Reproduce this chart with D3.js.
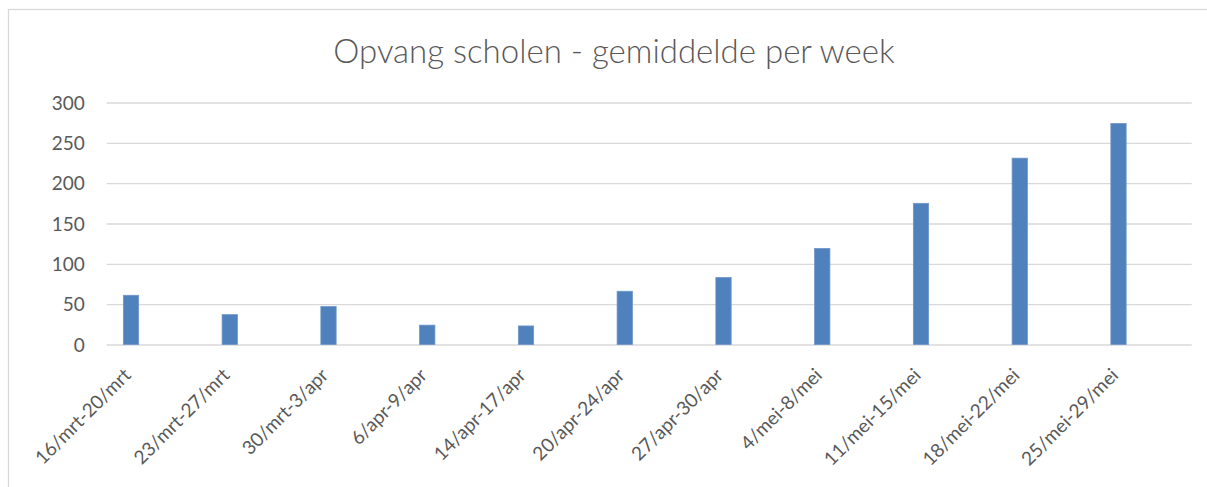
<!DOCTYPE html>
<html>
<head>
<meta charset="utf-8">
<script src="https://cdn.jsdelivr.net/npm/d3@7"></script>
<style>
  body { margin: 0; background: #fff; }
  text { font-family: Lato, "Open Sans", sans-serif; fill: #595959; }
</style>
</head>
<body>
<svg id="chart" width="1207" height="487"></svg>
<script>
// weeks and average number of children in school care
var weeks = ["16/mrt-20/mrt", "23/mrt-27/mrt", "30/mrt-3/apr", "6/apr-9/apr", "14/apr-17/apr",
             "20/apr-24/apr", "27/apr-30/apr", "4/mei-8/mei", "11/mei-15/mei", "18/mei-22/mei", "25/mei-29/mei"];
var gemiddelde = [61, 37, 47, 24, 23, 66, 83, 119, 175, 231, 274];
var yTicks = [0, 50, 100, 150, 200, 250, 300];
var title = "Opvang scholen - gemiddelde per week";

function drawChart() {
    var width = 1207, height = 487;
    var plot = {left: 106.7, right: 1191.7, top: 102.5, bottom: 344.5};

    var svg = d3.select("#chart");

    // chart frame, partly cut off on the right and bottom
    svg.append("rect")
        .attr("x", 8.5)
        .attr("y", 9.5)
        .attr("width", width)
        .attr("height", height)
        .attr("fill", "none")
        .attr("stroke", "#d9d9d9")
        .attr("stroke-width", 1.3);

    svg.append("text")
        .attr("x", 614)
        .attr("y", 63)
        .attr("text-anchor", "middle")
        .style("font-size", "33px")
        .style("font-weight", "300")
        .text(title);

    var x = d3.scalePoint()
        .domain(weeks)
        .range([131, 1118.5]);

    var y = d3.scaleLinear()
        .domain([0, 300])
        .range([plot.bottom, plot.top]);

    /* gridlines + y labels */
    var yAxis = svg.append("g")
        .attr("transform", "translate(" + plot.left + ",0)")
        .call(d3.axisLeft(y).tickValues(yTicks).tickSize(-(plot.right - plot.left)).tickPadding(22));
    yAxis.select(".domain").remove();
    yAxis.selectAll(".tick line")
        .attr("stroke", "#d9d9d9")
        .attr("stroke-width", 1.3);
    yAxis.selectAll(".tick text")
        .attr("dy", "0.35em")
        .style("font-size", "19px")
        .style("font-family", "Lato, sans-serif")
        .attr("fill", "#595959");

    var barWidth = 15.3;
    svg.selectAll("rect.bar")
        .data(weeks)
        .join("rect")
        .attr("class", "bar")
        .attr("x", d => x(d) - barWidth / 2)
        .attr("y", (d, i) => y(gemiddelde[i]))
        .attr("width", barWidth)
        .attr("height", (d, i) => y(0) - y(gemiddelde[i]))
        .attr("fill", "#4f81bd")
        .attr("stroke", "#6e96c9")
        .attr("stroke-width", 0.8);

    /* rotated category labels */
    svg.selectAll("text.cat")
        .data(weeks)
        .join("text")
        .attr("class", "cat")
        .attr("text-anchor", "end")
        .attr("transform", d => "translate(" + (x(d) + 1) + "," + (plot.bottom + 32) + ") rotate(-45)")
        .style("font-size", "19px")
        .text(d => d);
}

drawChart();
</script>
</body>
</html>
